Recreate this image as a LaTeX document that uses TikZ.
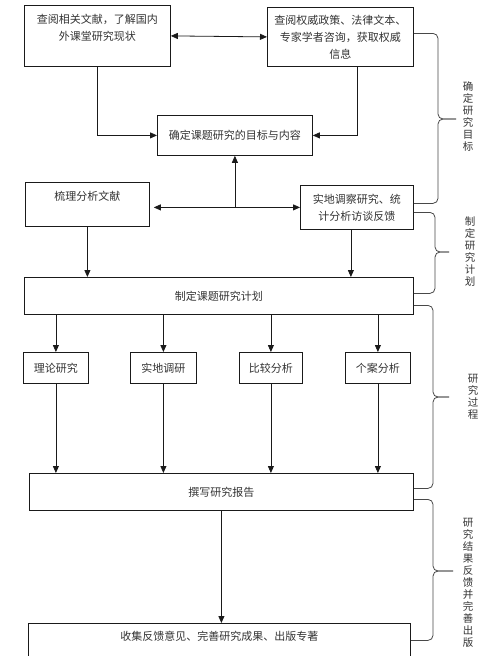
\documentclass[tikz,border=0pt]{standalone}
\usepackage{fontspec}
\newfontfamily\cjk{Noto Sans CJK SC}
\usetikzlibrary{arrows.meta,calc}
\definecolor{ctext}{HTML}{333333}
\definecolor{cline}{HTML}{1A1A1A}

\tikzset{
  stagebox/.style={draw=cline, line width=0.8pt, align=center, text=ctext,
                   inner sep=0pt, anchor=north west,
                   font=\cjk\fontsize{11}{17}\selectfont},
  flow/.style={-{Triangle[length=7pt,width=6pt]}, line width=0.8pt, cline},
  twoway/.style={{Triangle[length=7pt,width=6pt]}-{Triangle[length=7pt,width=6pt]},
                 line width=0.8pt, cline},
  bracket/.style={line width=0.8pt, rounded corners=5pt, cline!80},
  phase/.style={align=center, text=ctext, inner sep=0pt,
                font=\cjk\fontsize{10.5}{12}\selectfont}
}

\begin{document}
\begin{tikzpicture}[x=1pt, y=-1pt]
\clip (0,0) rectangle (500,656);

% =================== preparation ===================
\node[stagebox, minimum width=146pt, minimum height=61pt] (lit) at (24,5)
  {查阅相关文献，了解国内\\外课堂研究现状\\~};
\node[stagebox, minimum width=146pt, minimum height=59pt] (auth) at (267,7)
  {查阅权威政策、法律文本、\\专家学者咨询，获取权威\\信息};
\node[stagebox, minimum width=155pt, minimum height=40pt] (goal) at (157,115)
  {确定课题研究的目标与内容};
\node[stagebox, minimum width=124pt, minimum height=44pt] (sort) at (25,182)
  {梳理分析文献\\~};
\node[stagebox, minimum width=113pt, minimum height=44pt] (field) at (300,185)
  {实地调察研究、统\\计分析访谈反馈};

\draw[twoway] (lit.east) -- (auth.west);
\draw[flow] (lit.south) |- (goal.west);
\draw[flow] ([xshift=17pt]auth.south) |- (goal.east);
\coordinate (hub) at (goal.south |- field.west);
\draw[twoway] ([xshift=4pt]sort.east |- hub) -- (field.west);
\draw[flow] (hub) -- (goal.south);

% =================== plan ===================
\node[stagebox, minimum width=389pt, minimum height=37pt] (plan) at (24,277)
  {制定课题研究计划};
\draw[flow] (sort.south) -- (sort.south |- plan.north);
\draw[flow] ([xshift=-6pt]field.south) -- ([xshift=-6pt]field.south |- plan.north);

% =================== four methods ===================
\node[stagebox, minimum width=384pt, minimum height=37pt] (report) at (29,473)
  {撰写研究报告};
\foreach \name/\xx/\ww/\txt in {theory/23/65/理论研究, survey/130/66/实地调研,
                               compare/239/63/比较分析, case/345/65/个案分析}{
  \node[stagebox, minimum width=\ww pt, minimum height=31pt] (\name) at (\xx,352) {\txt};
  \draw[flow] (\name.north |- plan.south) -- (\name.north);
  \draw[flow] (\name.south) -- (\name.south |- report.north);
}

% =================== results ===================
\node[stagebox, minimum width=382pt, minimum height=58pt] (final) at (28,623)
  {收集反馈意见、完善研究成果、出版专著\\~\\~};
\draw[flow] (report.south) -- (final.north -| report.south);

% =================== stage braces ===================
\draw[bracket] ([yshift=3.5pt]auth.east) -| (438,119) -- (456,119);
\draw[bracket] (456,119) -- (438,119) |- ([yshift=4pt]field.east);
\draw[bracket] ([yshift=-5pt]field.east) -| (435,252) -- (449,252);
\draw[bracket] (449,252) -- (435,252) |- ([yshift=2.5pt]plan.east);
\draw[bracket] ([yshift=-9.5pt]plan.east) -| (433,397) -- (449,397);
\draw[bracket] (449,397) -- (433,397) |- ([yshift=3.5pt]report.east);
\draw[bracket] ([yshift=-7.5pt]report.east) -| (433,571) -- (453,571);
\draw[bracket] (453,571) -- (433,571) |- ([yshift=12pt]final.east);

\node[phase] (goalstage) at (468,116) {确\\定\\研\\究\\目\\标};
\node[phase] (planstage) at (470,252) {制\\定\\研\\究\\计\\划};
\node[phase] (procstage) at (473,397) {研\\究\\过\\程};
\node[phase] (pubstage) at (468,583) {研\\究\\结\\果\\反\\馈\\并\\完\\善\\出\\版};

\end{tikzpicture}
\end{document}
